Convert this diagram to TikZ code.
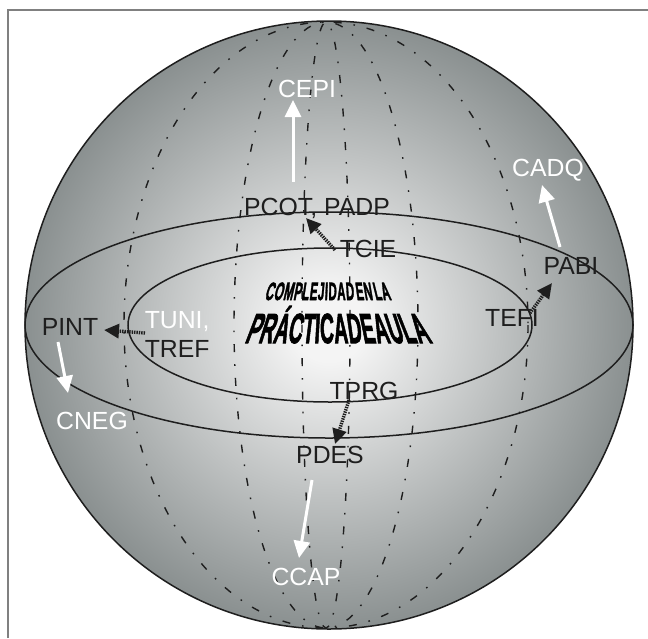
\documentclass[tikz,border=0pt]{standalone}
\usepackage{fontspec}
\setmainfont{Liberation Sans}
\newfontfamily\titlefont{Liberation Sans Bold}[FakeBold=2.5]
\usetikzlibrary{arrows.meta}
\definecolor{sphc}{RGB}{244,244,244}
\definecolor{sphe}{RGB}{138,144,144}
\definecolor{ink}{RGB}{30,30,30}
\definecolor{framegray}{RGB}{128,128,128}
\pgfdeclareradialshading{sphereshade}{\pgfpoint{0bp}{0bp}}{color(0bp)=(sphc);color(3bp)=(sphc);color(25bp)=(sphe);color(50bp)=(sphe)}
\begin{document}
\begin{tikzpicture}[x=.5pt,y=-.5pt,line width=.75pt,
  lbl/.style={font=\fontsize{12.4}{12.4}\selectfont,text=ink,inner sep=0pt,text depth=0pt},
  wlbl/.style={lbl,text=white},
  warr/.style={draw=white,line width=1.5pt,-{Triangle[length=8.5pt,width=8pt]}},
  darr/.style={draw=ink,line width=1.7pt,dash pattern=on .7pt off .5pt,-{Triangle[length=7.5pt,width=7pt]}},
  merid/.style={draw=ink,line width=.7pt,dash pattern=on 4pt off 6pt on .8pt off 6pt},
  tchar/.style 2 args={font=\titlefont\fontsize{#1}{#1}\selectfont,text=black,inner sep=0pt,anchor=base west,transform shape,xscale=#2}]
\useasboundingbox (0,0) rectangle (648,638);
\draw[framegray,line width=1pt] (8,638)--(8,10)--(648,10);
\shade[shading=sphereshade] (329,325) circle[radius=304];
\begin{scope}
\clip (329,325) circle[radius=304];
\foreach \r in {202,92,24} \draw[merid] (326,325) ellipse[x radius=\r,y radius=303];
\end{scope}
\draw[ink] (329,325) ellipse[x radius=304,y radius=113];
\draw[ink] (330,325) ellipse[x radius=202,y radius=77];
\draw[ink] (329,325) circle[radius=304];
\begin{scope}[shift={(263,300)}]
\node[inner sep=0pt,minimum size=0pt] (ca0) at (0,0) {};
\foreach \c [count=\i, remember=\i as \j (initially 0)] in {C,O,M,P,L,E,J,I,D,A,D,~,E,N,~,L,A}{
  \pgfmathsetmacro\sl{0.3-0.58*(\i-1)/16}
  \node[xslant=\sl,tchar={12.5}{.46}] (ca\i) at (ca\j.base east) {\c};}
\end{scope}
\begin{scope}[shift={(243,343)}]
\node[inner sep=0pt,minimum size=0pt] (cb0) at (0,0) {};
\foreach \c [count=\i, remember=\i as \j (initially 0)] in {P,R,Á,C,T,I,C,A,D,E,A,U,L,A}{
  \pgfmathsetmacro\sl{0.38-0.84*(\i-1)/13}
  \node[xslant=\sl,tchar={21}{.46}] (cb\i) at (cb\j.base east) {\c};}
\end{scope}
\node[wlbl] (cepi) at (307,89) {CEPI};\node[lbl] (pcot) at (317,207) {PCOT, PADP};
\node[lbl] (tcie) at (368,249) {TCIE};\node[wlbl] (cadq) at (548,168) {CADQ};
\node[lbl] (pabi) at (571,266) {PABI};\node[lbl] (tefi) at (512,318) {TEFI};
\node[lbl] (pint) at (70,327) {PINT};
\node[wlbl,anchor=west] (tuni) at (144,320) {TUNI,};\node[lbl,anchor=west] (tref) at (144,349) {TREF};
\node[wlbl] (cneg) at (92,421) {CNEG};\node[lbl] (tprg) at (364,391) {TPRG};
\node[lbl] (pdes) at (330,455) {PDES};\node[wlbl] (ccap) at (306,577) {CCAP};
\draw[warr] ([shift={(-24,-25)}]pcot.center) -- ([shift={(-14,11)}]cepi.center);
\draw[darr] ([shift={(-33,1)}]tcie.center) -- ([shift={(-11,11)}]pcot.center);
\draw[warr] ([shift={(-11,-19)}]pabi.center) -- ([shift={(-6,17)}]cadq.center);
\draw[darr] ([shift={(18,-5)}]tefi.center) -- ([shift={(-19,17)}]pabi.center);
\draw[darr] ([shift={(1,13)}]tuni.west) -- ([shift={(34,3)}]pint.center);
\draw[warr] ([shift={(-12,15)}]pint.center) -- ([shift={(-24,-28)}]cneg.center);
\draw[darr] ([shift={(-15,9)}]tprg.center) -- ([shift={(5,-11)}]pdes.center);
\draw[warr] ([shift={(-18,25)}]pdes.center) -- ([shift={(-7,-19)}]ccap.center);
\end{tikzpicture}
\end{document}
